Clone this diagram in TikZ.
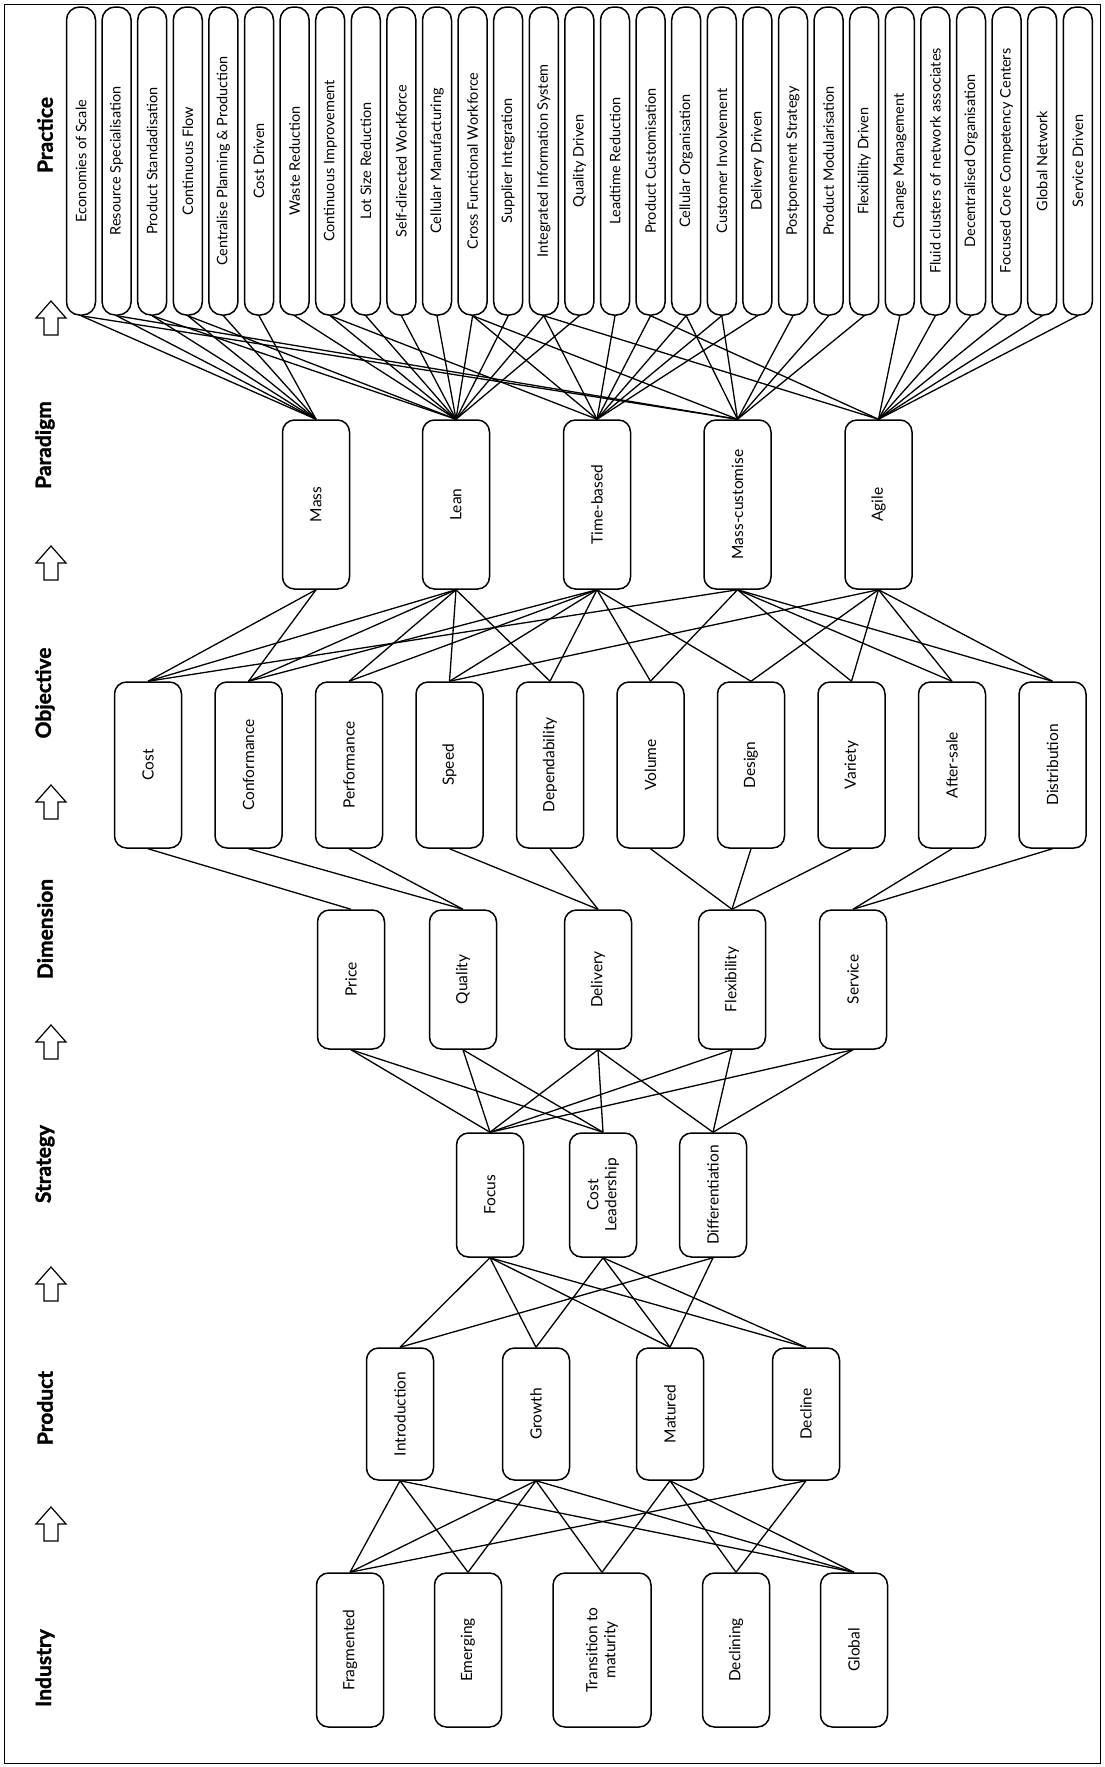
\documentclass[tikz,border=0pt]{standalone}
\usepackage{fontspec}
\setmainfont{Lato}
\newfontfamily\headfont{Lato}[FakeBold=1.5]
\tikzset{
  box/.style={draw, rounded corners=12pt, line width=1.5pt, rotate=90,
    minimum height=67pt, inner sep=3pt, align=center,
    font=\fontsize{15.5}{18}\selectfont},
  pract/.style={box, rounded corners=13pt, minimum width=308pt, minimum height=29pt,
    inner ysep=0pt, font=\fontsize{14.5}{17}\selectfont},
  head/.style={rotate=90, font=\fontsize{21}{24}\headfont\bfseries},
  link/.style={line width=1.3pt},
  uparrow/.style={line width=1.2pt, line join=miter}
}
\begin{document}
\begin{tikzpicture}[x=1pt,y=-1pt]
\useasboundingbox (0,0) rectangle (1104,1767);
\draw[line width=1pt] (4,4) rectangle (1100,1763);

\foreach \n/\y/\t in {hind/1668/Industry,hprod/1408/Product,hstrat/1164/Strategy,hdim/929/Dimension,hobj/693/Objective,hpar/445/Paradigm,hprac/135/Practice}
  \node[head] (\n) at (45,\y) {\t};
\foreach \y in {1524,1284,1042,802,563,318}
  \draw[uparrow] (51,\y) ++(-7,17) -- ++(14,0) -- ++(0,-17) -- ++(8,0) -- ++(-15,-17) -- ++(-15,17) -- ++(8,0) -- cycle;

\foreach \t [count=\i] in {Economies of Scale,Resource Specialisation,Product Standadisation,Continuous Flow,Centralise Planning \& Production,Cost Driven,Waste Reduction,Continuous Improvement,Lot Size Reduction,Self-directed Workforce,Cellular Manufacturing,Cross Functional Workforce,Supplier Integration,Integrated Information System,Quality Driven,Leadtime Reduction,Product Customisation,Cellular Organisation,Customer Involvement,Delivery Driven,Postponement Strategy,Product Modularisation,Flexibility Driven,Change Management,Fluid clusters of network associates,Decentralised Organisation,Focused Core Competency Centers,Global Network,Service Driven}
  \node[pract] (p\i) at ({81+35.6*(\i-1)},161) {\t};

\foreach \n/\x/\t in {mass/316/Mass,lean/456/Lean,time/597/Time-based,mcust/737.5/Mass-customise,agile/878.5/Agile}
  \node[box,minimum width=169pt] (\n) at (\x,504.5) {\t};

\foreach \n/\t [count=\k from 0] in {cost/Cost,conf/Conformance,perf/Performance,speed/Speed,dep/Dependability,vol/Volume,design/Design,var/Variety,after/After-sale,dist/Distribution}
  \node[box,minimum width=166pt] (\n) at ({148+100.5*\k},765) {\t};

\foreach \n/\x/\t in {price/351/Price,quality/463/Quality,delivery/598/Delivery,flex/732/Flexibility,service/853/Service}
  \node[box,minimum width=139pt] (\n) at (\x,979.5) {\t};

\foreach \n/\x/\t in {focus/490/Focus,costlead/603/{Cost\\Leadership},diff/713/Differentiation}
  \node[box,minimum width=124pt] (\n) at (\x,1195) {\t};

\foreach \n/\x/\t in {intro/400/Introduction,growth/536/Growth,matured/670/Matured,decline/806/Decline}
  \node[box,minimum width=132pt] (\n) at (\x,1414) {\t};

\foreach \n/\x/\t in {frag/350/Fragmented,emerg/468/Emerging,declining/736/Declining,global/854/Global}
  \node[box,minimum width=154pt] (\n) at (\x,1650) {\t};
\node[box,minimum width=154pt,minimum height=98pt] (trans) at (602,1650) {Transition to\\maturity};

\foreach \a/\b in {intro/frag,intro/emerg,intro/global,growth/frag,growth/emerg,growth/trans,growth/global,matured/trans,matured/declining,matured/global,decline/frag,decline/declining}
  \draw[link] (\a.west) -- (\b.east);
\foreach \a/\b in {focus/intro,focus/growth,focus/matured,focus/decline,costlead/growth,costlead/matured,costlead/decline,diff/intro,diff/matured}
  \draw[link] (\a.west) -- (\b.east);
\foreach \a/\b in {price/focus,price/costlead,quality/focus,quality/costlead,delivery/focus,delivery/costlead,delivery/diff,flex/focus,flex/diff,service/focus,service/diff}
  \draw[link] (\a.west) -- (\b.east);
\foreach \a/\b in {cost/price,conf/quality,perf/quality,speed/delivery,dep/delivery,vol/flex,design/flex,var/flex,after/service,dist/service}
  \draw[link] (\a.west) -- (\b.east);
\foreach \a/\b in {mass/cost,mass/conf,lean/cost,lean/conf,lean/perf,lean/speed,lean/dep,time/conf,time/perf,time/speed,time/dep,time/vol,time/design,mcust/cost,mcust/vol,mcust/var,mcust/after,mcust/dist,agile/speed,agile/design,agile/var,agile/after,agile/dist}
  \draw[link] (\a.west) -- (\b.east);
\foreach \a/\l in {mass/{1,2,3,4,5,6},lean/{3,4,7,8,9,10,11,12,13,14,15},time/{8,12,14,16,17,18,19,20},mcust/{1,2,12,18,19,21,22,23},agile/{14,17,24,25,26,27,28,29}}
  \foreach \i in \l
    \draw[link] (p\i.west) -- (\a.east);
\end{tikzpicture}
\end{document}
